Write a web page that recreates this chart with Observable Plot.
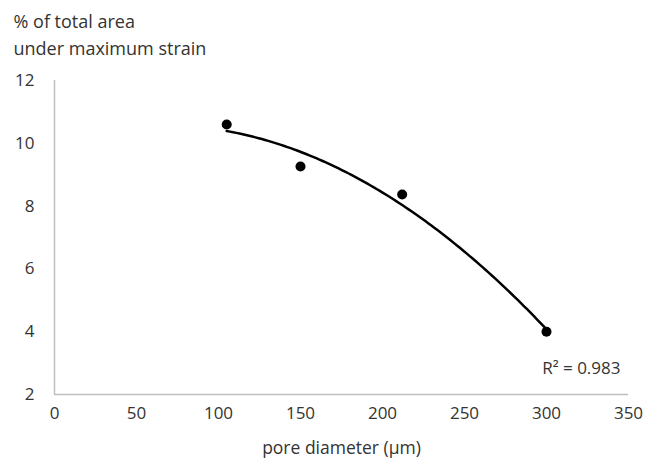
<!DOCTYPE html>
<html>
<head>
<meta charset="utf-8">
<script src="https://cdn.jsdelivr.net/npm/d3@7"></script>
<script src="https://cdn.jsdelivr.net/npm/@observablehq/plot@0.6"></script>
<style>
  html, body { margin: 0; padding: 0; background: #fff; }
  #chart { width: 647px; height: 465px; }
</style>
</head>
<body>
<div id="chart"></div>
<script>
// Data
const poreDiameter = [105, 150, 212, 300];       // µm
const areaPct = [10.6, 9.26, 8.37, 4.0];         // % of total area under maximum strain
const xTicks = [0, 50, 100, 150, 200, 250, 300, 350];
const yTicks = [2, 4, 6, 8, 10, 12];
const titleLines = ["% of total area", "under maximum strain"];
const xLabel = "pore diameter (\u00b5m)";
const r2Label = "R\u00b2 = 0.983";

const points = poreDiameter.map((d, i) => ({x: d, y: areaPct[i]}));

// 2nd-order polynomial least-squares trendline (as in the original spreadsheet chart)
function quadFit(xs, ys) {
  const n = xs.length;
  let s = [0, 0, 0, 0, 0], t = [0, 0, 0];
  for (let i = 0; i < n; i++) {
    let p = 1;
    for (let k = 0; k <= 4; k++) { s[k] += p; if (k <= 2) t[k] += p * ys[i]; p *= xs[i]; }
  }
  const A = [[s[0], s[1], s[2], t[0]], [s[1], s[2], s[3], t[1]], [s[2], s[3], s[4], t[2]]];
  for (let c = 0; c < 3; c++) {
    for (let r = c + 1; r < 3; r++) {
      const f = A[r][c] / A[c][c];
      for (let k = c; k < 4; k++) A[r][k] -= f * A[c][k];
    }
  }
  const coef = [0, 0, 0];
  for (let r = 2; r >= 0; r--) {
    let v = A[r][3];
    for (let k = r + 1; k < 3; k++) v -= A[r][k] * coef[k];
    coef[r] = v / A[r][r];
  }
  return coef;
}
const [c0, c1, c2] = quadFit(poreDiameter, areaPct);
const xMin = d3.min(poreDiameter), xMax = d3.max(poreDiameter);
const trend = d3.range(0, 101).map(i => {
  const x = xMin + (xMax - xMin) * i / 100;
  return {x, y: c0 + c1 * x + c2 * x * x};
});

const font = "'Open Sans', 'DejaVu Sans', sans-serif";
const textColor = "#333333";

const chart = Plot.plot({
  width: 647,
  height: 465,
  marginLeft: 54,
  marginRight: 19,
  marginTop: 80,
  marginBottom: 71,
  style: {fontFamily: font, fontSize: "17px", color: textColor, background: "#fff"},
  x: {domain: [0, 350], ticks: xTicks, label: null},
  y: {domain: [2, 12], ticks: yTicks, label: null},
  marks: [
    Plot.ruleX([0], {stroke: "#bfbfbf", strokeWidth: 1.5}),
    Plot.ruleY([2], {stroke: "#bfbfbf", strokeWidth: 1.5}),
    Plot.axisX({ticks: xTicks, tickSize: 0, tickPadding: 12, label: null, fontSize: 17, fill: textColor}),
    Plot.axisY({ticks: yTicks, tickSize: 0, tickPadding: 20, label: null, fontSize: 17, fill: textColor}),
    Plot.line(trend, {x: "x", y: "y", stroke: "#000", strokeWidth: 2.5, curve: "linear"}),
    Plot.dot(points, {x: "x", y: "y", r: 5, fill: "#000", stroke: "none"}),
    Plot.text([titleLines.join("\n")], {frameAnchor: "top-left", dx: -41, dy: -48, textAnchor: "start", lineAnchor: "middle", lineHeight: 1.5, fontSize: 18, fill: textColor}),
    Plot.text([xLabel], {frameAnchor: "bottom", dy: 54, lineAnchor: "middle", fontSize: 17.5, fill: textColor}),
    Plot.text([r2Label], {frameAnchor: "bottom-right", dx: -8, dy: -26, textAnchor: "end", lineAnchor: "middle", fontSize: 17, fill: textColor})
  ]
});
document.getElementById("chart").appendChild(chart);
</script>
</body>
</html>
